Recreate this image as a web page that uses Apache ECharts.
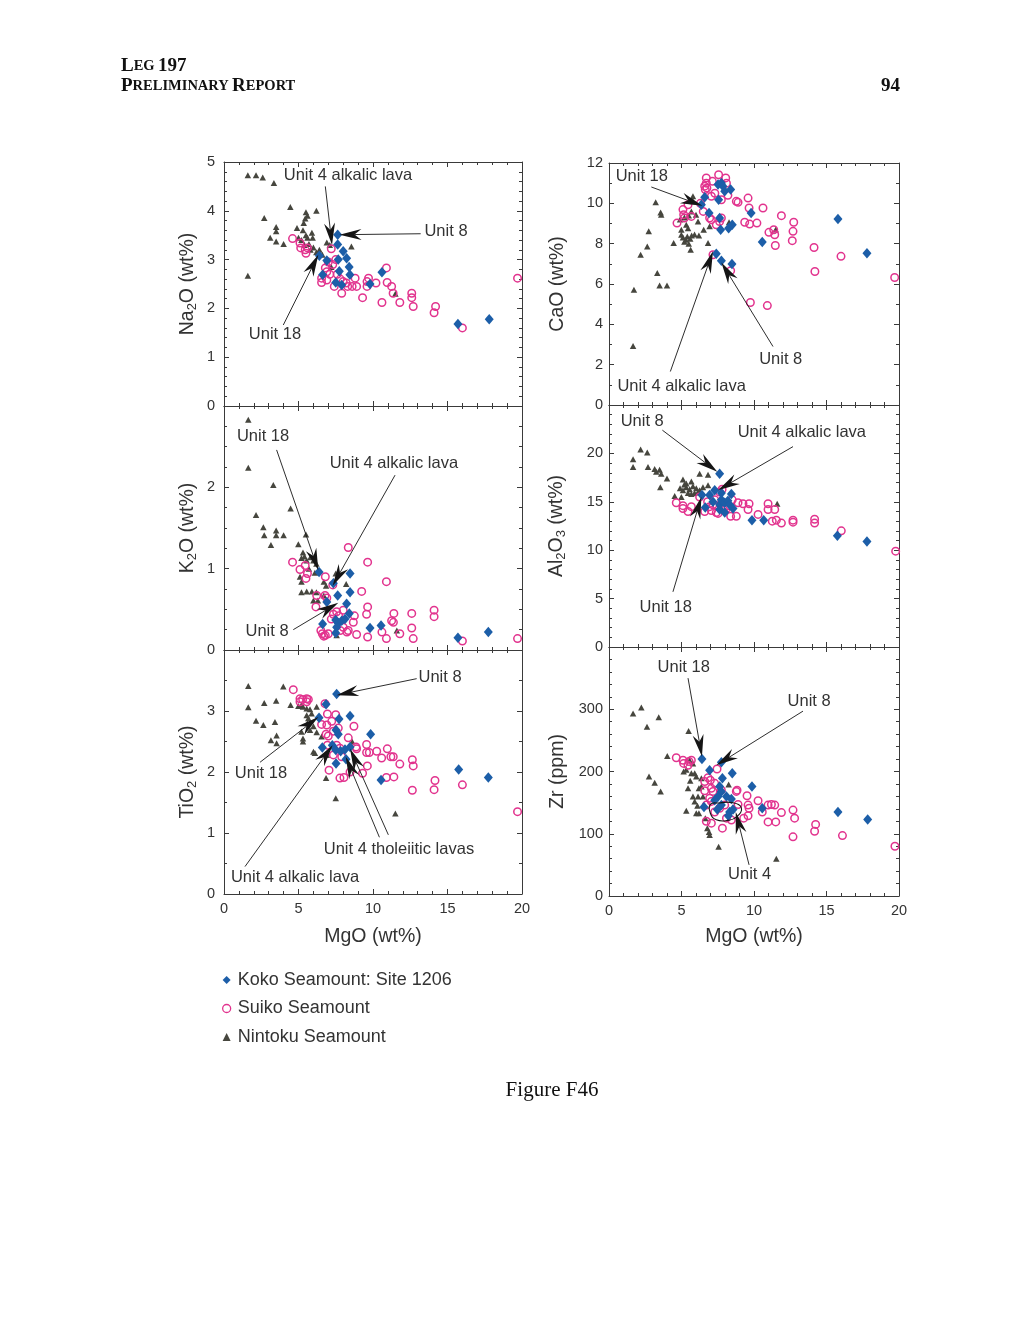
<!DOCTYPE html>
<html>
<head>
<meta charset="utf-8">
<script src="https://cdn.jsdelivr.net/npm/echarts@6/dist/echarts.min.js"></script>
<style>
html,body{margin:0;padding:0;background:#fff;}
#chart{width:1020px;height:1320px;}
</style>
</head>
<body>
<div id="chart"></div>
<script>
// ---------------- DATA (MgO wt% on x) ----------------
const xTicks = [0, 5, 10, 15, 20];

// Na2O (wt%)
const na2oKoko = [[7.63,3.51],[7.63,3.31],[8.0,3.17],[6.4,3.08],[6.9,2.98],[7.67,3.0],[8.23,3.03],[8.4,2.85],[7.74,2.76],[8.45,2.69],[6.62,2.69],[7.5,2.53],[7.9,2.48],[9.8,2.5],[10.6,2.74],[15.7,1.68],[17.8,1.78]];
const na2oSuiko = [[4.6,3.43],[5.1,3.34],[5.15,3.24],[5.45,3.2],[5.5,3.13],[5.6,3.24],[7.2,3.22],[6.8,2.83],[7.3,2.9],[6.55,2.62],[6.55,2.53],[6.9,2.58],[7.4,2.45],[7.9,2.31],[8.2,2.52],[8.6,2.45],[8.8,2.62],[8.9,2.45],[9.3,2.22],[9.6,2.55],[9.6,2.45],[9.7,2.62],[10.2,2.52],[10.6,2.12],[10.9,2.83],[10.95,2.53],[11.25,2.45],[11.35,2.31],[11.8,2.12],[12.6,2.31],[12.6,2.22],[12.7,2.04],[14.2,2.04],[14.1,1.91],[16.0,1.6],[19.7,2.62],[7.1,2.7],[7.6,2.7],[7.8,2.6],[8.0,2.55],[7.5,3.0],[7.0,2.95],[6.9,2.75],[8.3,2.45]];
const na2oNintoku = [[1.6,4.73],[2.15,4.73],[2.6,4.68],[3.35,4.57],[1.6,2.67],[2.7,3.85],[4.45,4.08],[6.2,4.0],[5.5,3.97],[5.6,3.9],[5.45,3.84],[3.5,3.67],[3.5,3.58],[3.1,3.45],[3.5,3.37],[4.0,3.32],[4.9,3.65],[5.3,3.6],[5.35,3.75],[5.5,3.5],[5.6,3.45],[5.9,3.55],[5.95,3.45],[5.2,3.4],[5.4,3.3],[5.7,3.32],[6.0,3.25],[6.2,3.15],[6.4,3.2],[6.6,3.1],[6.9,3.35],[7.1,3.3],[5.0,3.45],[5.8,3.2],[8.55,3.27],[11.5,2.3],[7.2,2.85]];

// K2O (wt%)
const k2oKoko = [[6.38,0.96],[7.34,0.82],[8.46,0.94],[8.46,0.71],[7.63,0.67],[6.9,0.59],[8.23,0.57],[8.41,0.45],[6.62,0.32],[7.5,0.37],[7.67,0.33],[7.9,0.36],[8.12,0.38],[7.5,0.21],[7.56,0.28],[9.8,0.27],[10.54,0.3],[15.7,0.15],[17.74,0.22]];
const k2oSuiko = [[4.6,1.08],[5.1,0.99],[5.45,1.04],[5.6,0.94],[5.5,0.88],[6.8,0.9],[7.3,0.8],[8.34,1.26],[9.64,1.08],[9.24,0.72],[10.9,0.84],[9.64,0.53],[9.57,0.44],[6.17,0.53],[6.78,0.67],[6.9,0.64],[7.34,0.44],[7.56,0.47],[8.0,0.49],[8.75,0.42],[8.68,0.34],[11.4,0.45],[11.37,0.34],[11.25,0.36],[12.6,0.45],[12.6,0.27],[14.1,0.49],[14.1,0.41],[10.6,0.22],[11.8,0.2],[12.7,0.14],[10.9,0.14],[9.64,0.16],[8.9,0.19],[8.34,0.24],[8.25,0.22],[6.5,0.24],[6.6,0.2],[6.8,0.18],[7.0,0.2],[6.7,0.17],[7.8,0.24],[8.0,0.28],[16.0,0.11],[19.7,0.14],[7.2,0.38],[7.7,0.42],[6.22,0.67]];
const k2oNintoku = [[1.63,2.83],[1.63,2.24],[3.31,2.03],[2.15,1.66],[2.64,1.51],[2.7,1.41],[3.5,1.47],[3.5,1.41],[4.0,1.41],[3.15,1.29],[4.47,1.74],[4.99,1.3],[5.5,1.42],[5.3,1.2],[5.4,1.15],[5.55,1.1],[5.2,1.13],[5.1,0.9],[5.2,0.84],[5.2,0.71],[5.55,0.72],[5.9,0.72],[6.2,0.71],[6.0,0.61],[6.3,0.61],[6.7,0.84],[6.85,0.79],[7.5,0.94],[8.2,0.81],[5.8,1.14],[6.0,1.1],[6.2,1.06],[7.56,0.18],[11.6,0.24],[6.7,0.67],[5.7,1.0],[6.1,0.95]];

// TiO2 (wt%)
const tio2Koko = [[7.56,3.28],[6.85,3.11],[6.38,2.89],[7.72,2.87],[8.46,2.92],[7.52,2.69],[7.67,2.62],[9.84,2.62],[6.6,2.4],[7.27,2.44],[7.5,2.36],[7.83,2.34],[8.12,2.37],[8.46,2.41],[7.52,2.14],[8.19,2.21],[10.54,1.87],[15.75,2.04],[17.74,1.91]];
const tio2Suiko = [[4.65,3.35],[5.1,3.2],[5.28,3.19],[5.55,3.2],[5.66,3.19],[5.1,3.15],[5.55,3.15],[6.78,3.12],[6.94,2.95],[7.5,2.94],[6.55,2.78],[6.9,2.77],[7.23,2.83],[7.67,2.72],[8.72,2.75],[6.85,2.62],[7.0,2.59],[7.34,2.67],[6.94,2.44],[7.56,2.44],[7.78,2.39],[7.34,2.28],[7.9,2.25],[7.05,2.03],[7.78,1.9],[8.05,1.91],[8.46,2.0],[8.9,2.38],[8.86,2.41],[8.34,2.56],[9.57,2.45],[9.57,2.32],[9.75,2.32],[10.25,2.34],[10.58,2.23],[10.96,2.38],[11.2,2.25],[11.36,2.25],[11.8,2.13],[12.64,2.2],[12.7,2.1],[12.64,1.7],[9.62,2.1],[9.3,1.98],[10.9,1.91],[11.4,1.92],[14.16,1.86],[14.1,1.71],[16.0,1.79],[19.7,1.35]];
const tio2Nintoku = [[1.63,3.41],[1.63,3.06],[2.15,2.84],[2.64,2.77],[2.7,3.13],[3.5,3.17],[3.42,2.82],[3.53,2.6],[3.15,2.52],[3.53,2.47],[3.98,3.4],[4.47,3.1],[4.99,3.08],[5.2,3.1],[5.3,3.07],[5.55,3.04],[5.77,3.03],[6.22,3.07],[5.3,2.55],[5.3,2.5],[5.2,2.66],[5.55,2.93],[5.66,2.88],[5.88,2.96],[5.77,2.69],[6.22,2.65],[6.0,2.33],[6.1,2.31],[6.85,1.9],[7.5,1.57],[11.5,1.32],[8.6,2.5],[6.55,2.58],[6.9,2.28],[5.6,2.8],[6.0,2.75]];

// CaO (wt%)
const caoKoko = [[6.6,10.3],[6.37,9.93],[6.9,9.52],[7.52,10.93],[7.75,11.01],[7.86,10.85],[7.98,10.6],[8.39,10.68],[7.56,10.18],[7.63,9.27],[7.7,8.69],[8.25,8.77],[8.5,8.94],[9.8,9.52],[10.57,8.08],[7.4,7.5],[7.75,7.15],[8.48,6.99],[15.79,9.22],[17.79,7.53]];
const caoSuiko = [[4.69,9.02],[5.1,9.69],[5.15,9.44],[5.2,9.27],[5.45,9.93],[5.68,9.35],[6.71,11.26],[6.71,11.0],[6.75,10.76],[7.13,11.09],[6.6,10.85],[6.64,10.68],[7.56,11.42],[8.05,11.26],[8.1,11.0],[7.06,10.35],[7.75,10.18],[8.78,10.1],[8.9,10.05],[9.59,10.26],[9.66,9.77],[9.36,9.06],[9.7,8.97],[10.2,9.02],[10.62,9.77],[11.03,8.56],[11.36,8.69],[11.43,8.44],[11.47,7.91],[11.89,9.39],[12.74,9.06],[12.69,8.61],[12.64,8.15],[14.14,7.81],[14.2,6.62],[16.0,7.37],[19.7,6.32],[9.75,5.08],[10.92,4.93],[8.39,6.66],[7.17,7.45],[7.75,9.27],[7.63,9.1],[6.94,9.27],[7.06,9.19],[7.4,8.94],[6.3,10.0],[6.5,9.6],[7.3,10.5],[8.2,10.4]];
const caoNintoku = [[1.66,2.93],[1.72,5.71],[2.18,7.45],[2.64,7.86],[2.74,8.61],[3.22,10.05],[3.56,9.55],[3.6,9.44],[3.33,6.54],[3.49,5.93],[4.0,5.93],[4.46,8.03],[4.99,8.44],[4.99,8.69],[5.33,8.94],[5.45,8.77],[5.79,10.35],[5.79,10.1],[5.63,7.7],[5.68,9.6],[6.0,9.44],[6.14,9.1],[6.53,8.69],[6.83,8.03],[6.94,8.86],[5.1,8.3],[5.3,8.2],[5.4,8.35],[5.6,8.25],[5.7,8.4],[5.2,8.1],[5.5,8.0],[5.9,8.45],[6.2,8.4],[4.9,9.2],[5.2,9.3],[5.5,9.4],[8.28,9.06],[11.5,8.7]];

// Al2O3 (wt%)
const al2o3Koko = [[7.63,17.9],[6.41,15.7],[6.94,15.7],[7.29,16.2],[7.75,15.9],[8.44,15.8],[6.64,14.4],[7.17,15.0],[7.63,14.7],[7.75,15.2],[7.98,14.9],[8.2,15.1],[8.32,14.7],[7.63,14.2],[7.98,13.9],[8.55,14.3],[9.86,13.1],[10.67,13.1],[15.75,11.5],[17.79,10.9]];
const al2o3Suiko = [[4.64,14.9],[5.1,14.6],[5.1,14.3],[5.45,14.0],[5.68,14.5],[6.25,15.5],[6.6,14.0],[6.94,14.5],[7.17,14.7],[7.29,15.2],[7.63,16.0],[7.8,16.3],[7.52,13.8],[8.1,14.3],[8.39,13.5],[8.78,13.5],[8.9,14.9],[9.24,14.8],[9.66,14.8],[9.59,14.2],[10.28,13.7],[10.97,14.8],[10.97,14.2],[11.43,14.2],[11.26,13.0],[11.54,13.1],[11.89,12.8],[12.69,13.1],[12.69,12.9],[14.18,13.2],[14.18,12.8],[16.02,12.0],[19.77,9.9],[7.06,14.1],[7.4,13.9],[7.9,14.2],[8.2,14.6],[8.5,15.2],[6.8,15.0]];
const al2o3Nintoku = [[1.66,18.6],[1.66,19.4],[2.18,20.4],[2.64,20.1],[2.69,18.6],[3.15,18.4],[3.26,18.1],[3.49,18.3],[3.6,17.9],[4.0,17.4],[3.54,16.5],[4.53,15.6],[4.99,15.5],[5.1,17.3],[5.33,16.9],[5.68,17.1],[6.25,17.9],[6.83,17.8],[6.83,16.7],[4.9,16.4],[5.1,16.2],[5.33,16.5],[5.56,16.3],[5.79,16.6],[6.02,16.4],[6.25,16.2],[6.48,16.5],[5.45,15.9],[5.68,15.8],[5.9,15.9],[6.14,16.0],[5.2,16.8],[11.6,14.8]];

// Zr (ppm)
const zrKoko = [[6.41,220],[6.94,202],[7.75,215],[7.82,189],[8.5,197],[9.86,176],[7.63,176],[7.75,168],[7.52,160],[8.1,160],[8.44,156],[7.29,154],[6.55,143],[7.47,139],[7.75,146],[8.32,135],[8.55,139],[8.23,129],[10.57,141],[15.79,135],[17.84,123]];
const zrSuiko = [[4.64,222],[5.1,218],[5.15,213],[5.52,216],[5.68,218],[5.45,210],[7.45,204],[6.6,184],[6.83,190],[6.99,186],[7.29,181],[6.6,169],[7.06,173],[7.17,168],[6.94,157],[7.06,152],[7.75,170],[6.71,146],[7.29,135],[6.71,120],[7.06,117],[7.82,109],[8.1,125],[8.44,122],[8.78,168],[8.83,170],[9.29,125],[9.52,161],[9.59,146],[9.66,141],[9.59,129],[10.28,153],[10.57,135],[10.97,119],[10.97,146],[11.2,147],[11.43,146],[11.5,119],[11.89,134],[12.69,138],[12.8,125],[12.69,95],[14.25,115],[14.18,104],[16.1,97],[19.72,80],[8.9,147],[7.63,141],[7.98,146]];
const zrNintoku = [[1.66,293],[2.23,303],[2.62,272],[3.43,287],[2.76,192],[3.15,182],[3.56,168],[4.02,225],[5.49,265],[5.15,200],[5.33,203],[5.56,218],[5.79,213],[5.68,197],[5.91,197],[6.02,192],[5.45,173],[5.79,160],[5.91,152],[6.14,160],[6.2,173],[5.33,137],[6.02,133],[6.2,133],[6.37,176],[6.48,160],[6.78,109],[6.9,103],[6.94,98],[6.64,125],[7.56,79],[11.54,60],[8.25,179],[6.37,189],[5.6,185],[6.1,145]];
const zrUnit4Outline = [[6.99,147],[7.63,149.5],[8.5,150],[9.13,141.5],[8.8,127],[8.2,121.5],[7.4,122.5],[6.99,133]];

// Annotations: labels [x, y, text] and arrows [xStart, yStart, xTip, yTip]
const na2oLabels = [[8.32,4.73,'Unit 4 alkalic lava'],[14.9,3.57,'Unit 8'],[3.42,1.47,'Unit 18']];
const na2oArrows = [[6.8,4.5,7.25,3.3],[13.2,3.53,7.75,3.51],[3.98,1.66,6.33,3.1]];
const k2oLabels = [[2.62,2.62,'Unit 18'],[11.4,2.29,'Unit 4 alkalic lava'],[2.89,0.23,'Unit 8']];
const k2oArrows = [[3.53,2.46,6.33,0.98],[11.48,2.15,7.29,0.79],[4.65,0.25,7.67,0.58]];
const tio2Labels = [[14.5,3.55,'Unit 8'],[2.48,1.98,'Unit 18'],[11.74,0.73,'Unit 4 tholeiitic lavas'],[4.77,0.27,'Unit 4 alkalic lava']];
const tio2Arrows = [[12.93,3.53,7.56,3.26],[2.42,2.16,6.33,2.9],[1.41,0.45,7.29,2.44],[10.43,0.93,8.17,2.25],[11.03,0.97,8.46,2.38]];
const caoLabels = [[2.26,11.35,'Unit 18'],[5.01,0.94,'Unit 4 alkalic lava'],[11.84,2.28,'Unit 8']];
const caoArrows = [[2.92,10.81,6.44,9.88],[4.23,1.66,7.17,7.62],[11.31,2.9,7.75,7.07]];
const al2o3Labels = [[2.29,23.3,'Unit 8'],[13.3,22.2,'Unit 4 alkalic lava'],[3.91,4.05,'Unit 18']];
const al2o3Arrows = [[3.68,22.4,7.47,18.1],[12.69,20.7,7.52,16.2],[4.41,5.7,6.37,15.5]];
const zrLabels = [[5.15,367,'Unit 18'],[13.8,313,'Unit 8'],[9.7,35,'Unit 4']];
const zrArrows = [[5.45,350,6.41,224],[13.38,297,7.4,210],[9.66,50,8.74,135]];

// ---------------- STYLE ----------------
const SANS = 'Liberation Sans, Arial, Helvetica, sans-serif';
const SERIF = 'Liberation Serif, Times New Roman, serif';
const TXT = '#333333';
const AX = '#3a3a3a';
const BLUE = '#1c5ea8', PINK = '#e2338e', GRAY = '#46463e';
const NAMES = ['Koko Seamount: Site 1206', 'Suiko Seamount', 'Nintoku Seamount'];

const panels = [
  {grid:{left:224, top:162, width:298, height:244}, ymax:5, yint:1, ysplit:5, showMax:true, bottom:false,
   name:'{n|Na}{s|2}{n|O (wt%)}', data:[na2oKoko,na2oSuiko,na2oNintoku], labels:na2oLabels, arrows:na2oArrows, ngap:25},
  {grid:{left:224, top:406, width:298, height:244}, ymax:3, yint:1, ysplit:4, showMax:false, bottom:false,
   name:'{n|K}{s|2}{n|O (wt%)}', data:[k2oKoko,k2oSuiko,k2oNintoku], labels:k2oLabels, arrows:k2oArrows, ngap:25},
  {grid:{left:224, top:650, width:298, height:244}, ymax:4, yint:1, ysplit:2, showMax:false, bottom:true,
   name:'{n|TiO}{s|2}{n| (wt%)}', data:[tio2Koko,tio2Suiko,tio2Nintoku], labels:tio2Labels, arrows:tio2Arrows, ngap:25},
  {grid:{left:609, top:163, width:290, height:242}, ymax:12, yint:2, ysplit:2, showMax:true, bottom:false,
   name:'{n|CaO (wt%)}', data:[caoKoko,caoSuiko,caoNintoku], labels:caoLabels, arrows:caoArrows, ngap:41},
  {grid:{left:609, top:405, width:290, height:242}, ymax:25, yint:5, ysplit:5, showMax:false, bottom:false,
   name:'{n|Al}{s|2}{n|O}{s|3}{n| (wt%)}', data:[al2o3Koko,al2o3Suiko,al2o3Nintoku], labels:al2o3Labels, arrows:al2o3Arrows, ngap:41},
  {grid:{left:609, top:647, width:290, height:249}, ymax:400, yint:100, ysplit:5, showMax:false, bottom:true,
   name:'{n|Zr (ppm)}', data:[zrKoko,zrSuiko,zrNintoku], labels:zrLabels, arrows:zrArrows, ngap:41, outline:zrUnit4Outline}
];

const tickCommon = (split) => ({
  axisLine:{show:true, onZero:false, lineStyle:{color:AX, width:1}},
  axisTick:{show:true, inside:true, length:5, lineStyle:{color:AX, width:1}},
  minorTick:{show:true, splitNumber:split, length:3, lineStyle:{color:AX, width:1}},
  splitLine:{show:false}, minorSplitLine:{show:false}
});

const grids = [], xAxes = [], yAxes = [], series = [];
const nameRich = {
  n:{fontSize:19.5, color:TXT, fontFamily:SANS},
  s:{fontSize:13, color:TXT, fontFamily:SANS, padding:[9,0,0,0]}
};

function arrowRender(arr){
  return function(params, api){
    const d = arr[params.dataIndex];
    const a = api.coord([d[0], d[1]]);
    const b = api.coord([d[2], d[3]]);
    const dx = b[0]-a[0], dy = b[1]-a[1];
    const len = Math.hypot(dx, dy) || 1;
    const ux = dx/len, uy = dy/len, nx = -uy, ny = ux;
    const L = 22, W = 5.5, N = 15;
    const bx = b[0]-ux*L, by = b[1]-uy*L;
    const notch = [b[0]-ux*N, b[1]-uy*N];
    return {type:'group', children:[
      {type:'line', shape:{x1:a[0], y1:a[1], x2:notch[0], y2:notch[1]}, style:{stroke:'#151515', lineWidth:0.9}},
      {type:'polygon', shape:{points:[[b[0],b[1]],[bx+nx*W, by+ny*W], notch, [bx-nx*W, by-ny*W]]}, style:{fill:'#151515'}}
    ]};
  };
}
function labelRender(arr){
  return function(params, api){
    const d = arr[params.dataIndex];
    const p = api.coord([d[0], d[1]]);
    return {type:'text', x:p[0], y:p[1], style:{text:d[2], fill:TXT, font:'16.5px ' + SANS, align:'center', verticalAlign:'middle'}};
  };
}
function outlineRender(arr){
  return function(params, api){
    if (params.dataIndex !== 0) return null;
    const pts = arr.map(d => api.coord([d[0], d[1]]));
    return {type:'polygon', shape:{points:pts, smooth:0.5}, style:{fill:'none', stroke:'#151515', lineWidth:1.1}};
  };
}

panels.forEach((p, i) => {
  grids.push(Object.assign({containLabel:false}, p.grid));
  xAxes.push(Object.assign({
    type:'value', gridIndex:i, position:'bottom', min:0, max:20, interval:5,
    name: p.bottom ? 'MgO (wt%)' : '', nameLocation:'middle', nameGap: p.grid.top + p.grid.height === 894 ? 33 : 31,
    nameTextStyle:{fontSize:19.5, color:TXT, fontFamily:SANS},
    axisLabel:{show:p.bottom, fontSize:14.5, color:TXT, fontFamily:SANS, margin:7, showMinLabel:true, showMaxLabel:true}
  }, tickCommon(5)));
  xAxes.push(Object.assign({
    type:'value', gridIndex:i, position:'top', min:0, max:20, interval:5, axisLabel:{show:false}
  }, tickCommon(5)));
  yAxes.push(Object.assign({
    type:'value', gridIndex:i, position:'left', min:0, max:p.ymax, interval:p.yint,
    name:p.name, nameLocation:'middle', nameGap:p.ngap,
    nameTextStyle:{rich:nameRich, color:TXT, fontSize:19.5, fontFamily:SANS},
    axisLabel:{fontSize:14.5, color:TXT, fontFamily:SANS, margin: i < 3 ? 9 : 6, showMaxLabel:p.showMax, showMinLabel:true}
  }, tickCommon(p.ysplit)));
  yAxes.push(Object.assign({
    type:'value', gridIndex:i, position:'right', min:0, max:p.ymax, interval:p.yint, axisLabel:{show:false}
  }, tickCommon(p.ysplit)));

  const xi = 2*i, yi = 2*i;
  series.push({type:'scatter', name:NAMES[2], xAxisIndex:xi, yAxisIndex:yi, data:p.data[2],
    symbol:'triangle', symbolSize:[6.5,6], itemStyle:{color:GRAY, opacity:1}, z:2, silent:true});
  series.push({type:'scatter', name:NAMES[1], xAxisIndex:xi, yAxisIndex:yi, data:p.data[1],
    symbol:'circle', symbolSize:7.5, itemStyle:{color:'rgba(255,255,255,0)', borderColor:PINK, borderWidth:1.5, opacity:1}, z:3, silent:true});
  series.push({type:'scatter', name:NAMES[0], xAxisIndex:xi, yAxisIndex:yi, data:p.data[0],
    symbol:'diamond', symbolSize:[9,10.5], itemStyle:{color:BLUE, opacity:1}, z:4, silent:true});
  if (p.outline) {
    series.push({type:'custom', name:'outline', xAxisIndex:xi, yAxisIndex:yi, data:p.outline,
      renderItem:outlineRender(p.outline), z:5, silent:true, clip:false});
  }
  series.push({type:'custom', name:'arrows', xAxisIndex:xi, yAxisIndex:yi,
    data:p.arrows.map(d => [d[0], d[1], d[2], d[3]]), encode:{x:[0,2], y:[1,3]},
    renderItem:arrowRender(p.arrows), z:6, silent:true, clip:false});
  series.push({type:'custom', name:'labels', xAxisIndex:xi, yAxisIndex:yi,
    data:p.labels.map(d => [d[0], d[1]]), encode:{x:0, y:1},
    renderItem:labelRender(p.labels), z:6, silent:true, clip:false});
});

const chart = echarts.init(document.getElementById('chart'), null, {renderer:'canvas'});
chart.setOption({
  animation:false,
  backgroundColor:'#ffffff',
  grid:grids, xAxis:xAxes, yAxis:yAxes, series:series,
  legend:{
    orient:'vertical', left:222, top:971, padding:0, itemGap:10.5, itemWidth:8, itemHeight:8,
    selectedMode:false,
    textStyle:{fontSize:18, color:TXT, fontFamily:SANS, padding:[0,0,0,2]},
    data:[{name:NAMES[0], icon:'diamond'}, {name:NAMES[1], icon:'circle', itemStyle:{borderWidth:1.3}}, {name:NAMES[2], icon:'triangle'}]
  },
  graphic:[
    {type:'text', x:121, y:66, silent:true, style:{text:'{a|L}{b|EG} {a|197}', verticalAlign:'middle', fill:'#111',
      rich:{a:{fontSize:19, fontWeight:'bold', fontFamily:SERIF, fill:'#111'}, b:{fontSize:14.5, fontWeight:'bold', fontFamily:SERIF, fill:'#111'}}}},
    {type:'text', x:121, y:86, silent:true, style:{text:'{a|P}{b|RELIMINARY} {a|R}{b|EPORT}', verticalAlign:'middle', fill:'#111',
      rich:{a:{fontSize:19, fontWeight:'bold', fontFamily:SERIF, fill:'#111'}, b:{fontSize:14.5, fontWeight:'bold', fontFamily:SERIF, fill:'#111'}}}},
    {type:'text', x:900, y:86, silent:true, style:{text:'94', align:'right', verticalAlign:'middle', fill:'#111', font:'bold 19px ' + SERIF}},
    {type:'text', x:552, y:1090, silent:true, style:{text:'Figure F46', align:'center', verticalAlign:'middle', fill:'#111', font:'21px ' + SERIF}}
  ]
});
</script>
</body>
</html>
